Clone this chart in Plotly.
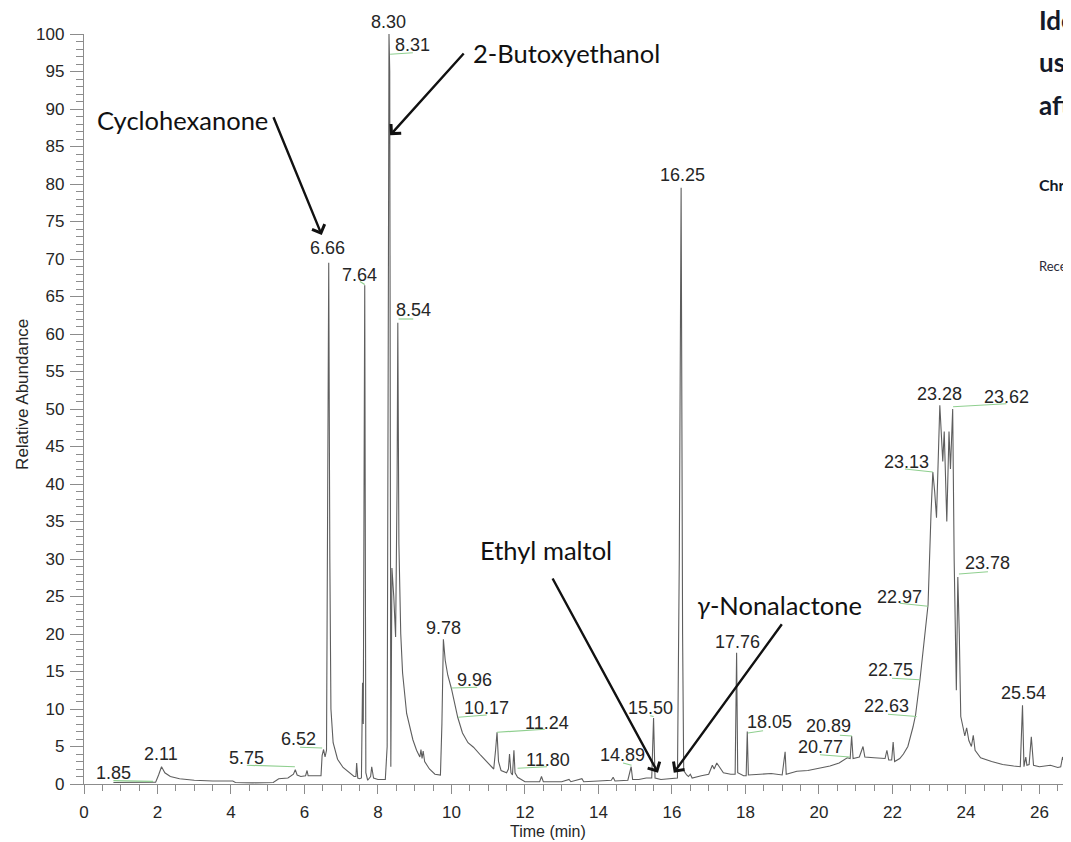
import plotly.graph_objects as go

# ---------------- data ----------------
time_min = [0.80, 1.20, 1.60, 1.95, 2.03, 2.11, 2.20, 2.35, 2.60, 3.00, 3.50, 4.05, 4.12, 4.60, 5.15,
            5.30, 5.55, 5.70, 5.75, 5.80, 5.90, 6.03, 6.07, 6.10, 6.45, 6.48, 6.52, 6.56, 6.60, 6.63,
            6.66, 6.69, 6.72, 6.78, 6.90, 7.05, 7.20, 7.35, 7.40, 7.42, 7.45, 7.50, 7.55, 7.58, 7.60,
            7.64, 7.67, 7.72, 7.80, 7.83, 7.88, 8.00, 8.20, 8.25, 8.28, 8.30, 8.32, 8.34, 8.35, 8.38,
            8.43, 8.48, 8.52, 8.54, 8.57, 8.62, 8.67, 8.78, 8.95, 9.05, 9.14, 9.17, 9.20, 9.23, 9.27,
            9.40, 9.55, 9.70, 9.74, 9.78, 9.83, 9.90, 10.00, 10.17, 10.30, 10.45, 10.60, 10.80, 11.00,
            11.15, 11.20, 11.24, 11.28, 11.35, 11.50, 11.55, 11.58, 11.62, 11.66, 11.70, 11.73, 11.80,
            11.90, 12.00, 12.40, 12.45, 12.50, 13.00, 13.20, 13.25, 13.55, 13.60, 14.00, 14.35, 14.40,
            14.45, 14.80, 14.89, 14.93, 15.10, 15.30, 15.45, 15.50, 15.54, 15.70, 16.00, 16.15, 16.20,
            16.25, 16.29, 16.32, 16.40, 16.45, 16.50, 16.55, 16.80, 17.00, 17.10, 17.15, 17.22, 17.30,
            17.40, 17.60, 17.72, 17.76, 17.79, 17.95, 18.02, 18.05, 18.08, 18.40, 18.70, 19.00, 19.08,
            19.11, 19.40, 19.70, 20.00, 20.30, 20.55, 20.77, 20.85, 20.89, 20.93, 21.10, 21.20, 21.25,
            21.50, 21.80, 21.85, 21.90, 21.98, 22.02, 22.06, 22.20, 22.30, 22.42, 22.56, 22.63, 22.75,
            22.97, 23.05, 23.10, 23.15, 23.20, 23.29, 23.37, 23.41, 23.48, 23.54, 23.58, 23.64, 23.68,
            23.74, 23.78, 23.82, 23.86, 23.92, 23.97, 24.02, 24.08, 24.15, 24.20, 24.25, 24.40, 24.70,
            25.00, 25.30, 25.48, 25.54, 25.58, 25.63, 25.66, 25.72, 25.78, 25.84, 26.00, 26.30, 26.50,
            26.58, 26.63, 26.70, 26.86]
abundance = [0.2, 0.2, 0.2, 0.25, 1.2, 2.3, 1.5, 1.0, 0.7, 0.5, 0.4, 0.4, 0.2, 0.15, 0.2,
             0.7, 0.8, 1.3, 1.9, 1.2, 1.0, 1.1, 1.8, 1.1, 1.1, 3.8, 4.6, 3.6, 4.5, 40.0,
             69.5, 30.0, 10.0, 5.5, 3.3, 2.2, 1.6, 1.0, 1.0, 2.8, 0.8, 0.7, 0.8, 13.5, 8.0,
             66.5, 1.5, 0.5, 1.0, 2.3, 0.8, 0.6, 0.6, 5.0, 60.0, 100.0, 95.0, 20.0, 2.3, 28.8,
             25.0, 19.6, 40.0, 61.5, 32.0, 20.0, 14.8, 9.4, 5.9, 4.5, 3.6, 4.6, 3.4, 4.4, 3.0,
             2.0, 1.3, 1.2, 8.0, 19.3, 16.5, 14.5, 12.7, 8.9, 6.8, 5.5, 4.9, 3.8, 2.8,
             2.0, 4.5, 6.9, 3.0, 1.8, 1.5, 2.0, 4.0, 1.5, 1.2, 4.5, 1.5, 0.9,
             0.6, 0.3, 0.3, 1.0, 0.3, 0.3, 0.6, 0.3, 0.7, 0.3, 0.4, 0.5, 0.9,
             0.4, 0.5, 2.3, 0.6, 0.6, 0.8, 0.8, 8.8, 0.8, 0.6, 0.7, 0.8, 30.0,
             79.5, 20.0, 1.8, 1.2, 1.0, 1.3, 0.8, 1.1, 1.3, 2.5, 2.0, 2.8, 2.2,
             1.5, 1.3, 1.3, 17.5, 1.5, 1.1, 1.1, 7.0, 1.2, 1.3, 1.4, 1.2, 4.3,
             1.3, 1.7, 1.8, 2.1, 2.4, 2.8, 3.5, 3.4, 6.4, 3.4, 3.6, 5.0, 3.6,
             3.5, 3.4, 4.5, 3.2, 3.2, 5.6, 3.0, 3.4, 4.0, 5.0, 7.6, 9.2, 13.9,
             23.9, 36.0, 41.6, 39.0, 35.5, 50.5, 43.0, 47.0, 35.0, 47.0, 42.0, 50.0, 30.0,
             12.5, 27.6, 20.0, 9.0, 7.6, 6.4, 7.5, 5.8, 5.0, 6.5, 4.5, 3.5, 3.0,
             2.6, 2.4, 2.3, 10.5, 2.3, 3.6, 2.5, 2.6, 6.3, 2.5, 2.3, 2.5, 2.2,
             2.3, 3.6, 2.6, 2.5]

peak_labels = ["1.85", "2.11", "5.75", "6.52", "6.66", "7.64", "8.30", "8.31", "8.54",
               "9.78", "9.96", "10.17", "11.24", "11.80", "14.89", "15.50", "16.25",
               "17.76", "18.05", "20.77", "20.89", "22.63", "22.75", "22.97", "23.13",
               "23.28", "23.62", "23.78", "25.54"]

compounds = ["Cyclohexanone", "2-Butoxyethanol", "Ethyl maltol", "<i>γ</i>-Nonalactone"]

x_ticks = [0, 2, 4, 6, 8, 10, 12, 14, 16, 18, 20, 22, 24, 26]
y_ticks = [0, 5, 10, 15, 20, 25, 30, 35, 40, 45, 50, 55, 60, 65, 70, 75, 80, 85, 90, 95, 100]

heading_lines = ["Identification", "using", "after"]
author_line = "Christopher"
received_line = "Received"

x_title = "Time (min)"
y_title = "Relative Abundance"

# ---------------- layout helpers (positions / styles) ----------------
X_MAX = 26.86
Y_MAX = 100.0


def px(t):
    return t / X_MAX


def py(v):
    return v / Y_MAX


# label placement: (text-centre time, text-centre abundance, leader line or None)
label_pos = {
    "1.85": (0.80, 1.5, (0.80, 0.45, 1.88, 0.35)),
    "2.11": (2.10, 4.0, None),
    "5.75": (4.43, 3.5, (4.43, 2.5, 5.74, 2.3)),
    "6.52": (5.83, 6.0, (5.88, 4.9, 6.48, 4.8)),
    "6.66": (6.64, 71.4, None),
    "7.64": (7.51, 67.9, (7.51, 67.0, 7.64, 66.6)),
    "8.30": (8.28, 101.6, None),
    "8.31": (8.95, 98.5, (8.33, 97.3, 8.95, 97.5)),
    "8.54": (8.96, 63.2, (8.56, 62.0, 8.96, 62.0)),
    "9.78": (9.78, 20.8, None),
    "9.96": (10.64, 13.9, (10.00, 12.8, 10.70, 12.9)),
    "10.17": (10.96, 10.1, (10.18, 8.9, 10.96, 9.2)),
    "11.24": (12.60, 8.1, (11.24, 6.9, 12.54, 7.3)),
    "11.80": (12.63, 3.2, (11.80, 2.1, 12.60, 2.3)),
    "14.89": (14.65, 3.9, (14.67, 2.8, 14.90, 2.5)),
    "15.50": (15.41, 10.1, (15.41, 9.1, 15.50, 9.0)),
    "16.25": (16.30, 81.2, None),
    "17.76": (17.78, 18.9, None),
    "18.05": (18.65, 8.3, (18.07, 6.8, 18.48, 7.1)),
    "20.77": (20.03, 4.9, (20.03, 3.9, 20.84, 3.6)),
    "20.89": (20.25, 7.7, (20.57, 6.5, 20.90, 6.4)),
    "22.63": (21.85, 10.4, (21.88, 9.3, 22.66, 9.0)),
    "22.75": (21.96, 15.2, (21.99, 14.1, 22.75, 13.9)),
    "22.97": (22.18, 24.9, (22.20, 24.1, 22.97, 23.7)),
    "23.13": (22.37, 42.9, (22.34, 42.0, 23.10, 41.6)),
    "23.28": (23.29, 52.0, None),
    "23.62": (25.10, 51.6, (23.65, 50.3, 25.10, 50.7)),
    "23.78": (24.60, 29.5, (23.81, 28.0, 24.60, 28.3)),
    "25.54": (25.56, 12.1, None),
}

# compound annotation: text centre (t, y), arrow tail (t, y), arrow head (t, y)
compound_pos = [
    ((2.69, 88.5), (5.14, 89.1), (6.47, 73.2)),
    ((13.14, 97.5), (10.37, 97.6), (8.33, 86.5)),
    ((12.57, 31.2), (12.73, 27.6), (15.62, 1.5)),
    ((18.94, 23.9), (19.02, 21.5), (16.05, 1.5)),
]

AX_GREY = "#8c8c8c"
TXT = "#262626"
ARIAL = "Liberation Sans, Arial, sans-serif"
LABEL_FONT = dict(family=ARIAL, size=18, color=TXT)
NAME_FONT = dict(family="Lato, Open Sans, sans-serif", size=25.5, color="#111111")

fig = go.Figure()
fig.add_trace(go.Scatter(
    x=time_min, y=abundance, mode="lines",
    line=dict(color="#5e5e5e", width=1.1),
    hoverinfo="skip", showlegend=False, cliponaxis=False,
))

annotations = []
shapes = []
for lab in peak_labels:
    tx, ty, leader = label_pos[lab]
    annotations.append(dict(x=px(tx), y=py(ty), xref="paper", yref="paper", text=lab,
                            showarrow=False, font=LABEL_FONT, xanchor="center", yanchor="middle"))
    if leader is not None:
        x0, y0, x1, y1 = leader
        shapes.append(dict(type="line", xref="x", yref="y", x0=x0, y0=y0, x1=x1, y1=y1,
                           line=dict(color="#8fcf8f", width=1.2)))

for name, (tpos, tail, head) in zip(compounds, compound_pos):
    annotations.append(dict(x=px(tpos[0]), y=py(tpos[1]), xref="paper", yref="paper", text=name,
                            showarrow=False, font=NAME_FONT, xanchor="center", yanchor="middle"))
    annotations.append(dict(x=head[0], y=head[1], xref="x", yref="y", text="",
                            showarrow=True, axref="x", ayref="y", ax=tail[0], ay=tail[1],
                            arrowhead=4, arrowsize=1.1, arrowwidth=2.4, arrowcolor="#111111",
                            standoff=0, startstandoff=0))

# axis titles
annotations.append(dict(x=px(12.63), y=py(-6.35), xref="paper", yref="paper", text=x_title,
                        showarrow=False, xanchor="center", yanchor="middle",
                        font=dict(family=ARIAL, size=16, color=TXT)))
annotations.append(dict(x=px(-1.69), y=py(52.0), xref="paper", yref="paper", text=y_title,
                        showarrow=False, textangle=-90, xanchor="center", yanchor="middle",
                        font=dict(family=ARIAL, size=17, color=TXT)))

# page text from the paper behind the figure (cut off at the right edge)
for txt, yy in zip(heading_lines, [101.9, 96.3, 90.5]):
    annotations.append(dict(x=px(25.93), y=py(yy), xref="paper", yref="paper", text=txt,
                            showarrow=False, xanchor="left", yanchor="middle",
                            font=dict(family="Lato, sans-serif", size=26, color="#141a2a",
                                      weight="bold")))
annotations.append(dict(x=px(25.93), y=py(79.9), xref="paper", yref="paper", text=author_line,
                        showarrow=False, xanchor="left", yanchor="middle",
                        font=dict(family="Lato, sans-serif", size=16, color="#141a2a", weight="bold")))
annotations.append(dict(x=px(25.93), y=py(69.1), xref="paper", yref="paper", text=received_line,
                        showarrow=False, xanchor="left", yanchor="middle",
                        font=dict(family="Lato, sans-serif", size=13, color="#2a2a3a")))

# the page body has an 8px margin, so the figure is shifted by 8px; compensate
fig.update_layout(
    width=1063, height=834,
    margin=dict(l=76, r=0, t=26, b=58),
    paper_bgcolor="white", plot_bgcolor="white",
    showlegend=False,
    annotations=annotations, shapes=shapes,
    xaxis=dict(range=[0, X_MAX], tickvals=x_ticks, ticks="outside", ticklen=9, tickwidth=1,
               tickcolor=AX_GREY, showline=True, linecolor=AX_GREY, linewidth=1.3,
               showgrid=False, zeroline=False, ticklabelstandoff=3,
               tickfont=dict(family=ARIAL, size=17, color=TXT),
               minor=dict(dtick=0.5, ticks="outside", ticklen=6, tickcolor=AX_GREY, showgrid=False)),
    yaxis=dict(range=[0, Y_MAX], tickvals=y_ticks, ticks="outside", ticklen=13, tickwidth=1,
               tickcolor=AX_GREY, showline=True, linecolor=AX_GREY, linewidth=1.3,
               showgrid=False, zeroline=False, ticklabelstandoff=2,
               tickfont=dict(family=ARIAL, size=17, color=TXT),
               minor=dict(dtick=1, ticks="outside", ticklen=7, tickcolor=AX_GREY, showgrid=False)),
)

fig.write_html("out.html")
